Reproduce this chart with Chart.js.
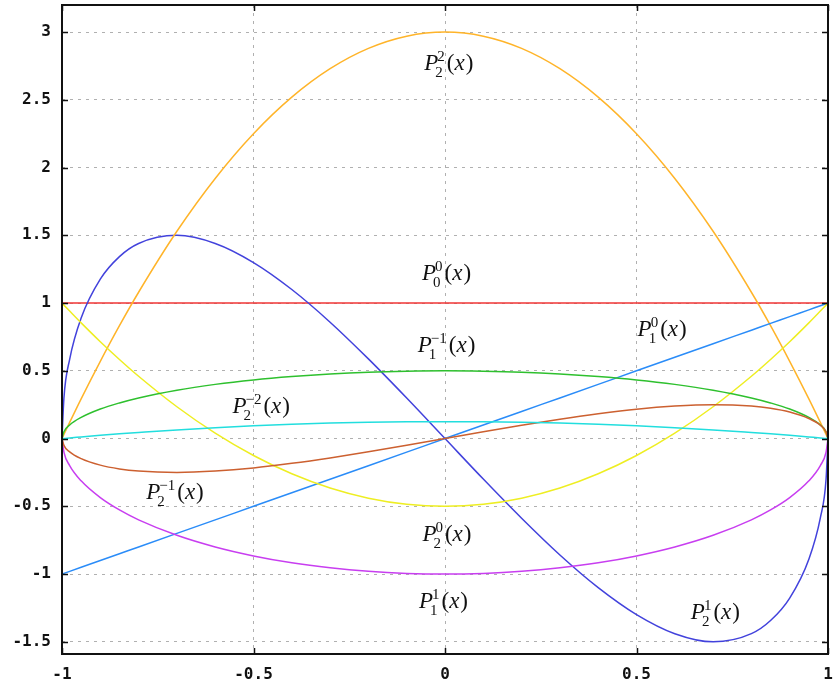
<!DOCTYPE html>
<html>
<head>
<meta charset="utf-8">
<script src="https://cdn.jsdelivr.net/npm/chart.js@4.4.1/dist/chart.umd.min.js"></script>
<style>
  html, body { margin: 0; padding: 0; background: #fff; }
</style>
</head>
<body>
<canvas id="myChart" width="833" height="689"></canvas>
<script>
let xs = [-1, -0.995, -0.98, -0.95, -0.9, -0.85, -0.8, -0.7, -0.6, -0.5, -0.4, -0.3, -0.2, -0.1, 0,
          0.1, 0.2, 0.3, 0.4, 0.5, 0.6, 0.7, 0.8, 0.85, 0.9, 0.95, 0.98, 0.995, 1]

let p00 = [1, 1, 1, 1, 1, 1, 1, 1, 1, 1, 1, 1, 1, 1, 1,
           1, 1, 1, 1, 1, 1, 1, 1, 1, 1, 1, 1, 1, 1]
let p10 = [-1, -0.995, -0.98, -0.95, -0.9, -0.85, -0.8, -0.7, -0.6, -0.5, -0.4, -0.3, -0.2, -0.1, 0,
           0.1, 0.2, 0.3, 0.4, 0.5, 0.6, 0.7, 0.8, 0.85, 0.9, 0.95, 0.98, 0.995, 1]
let p1m1 = [0, 0.05, 0.1, 0.156, 0.218, 0.263, 0.3, 0.357, 0.4, 0.433, 0.458, 0.477, 0.49, 0.497, 0.5,
            0.497, 0.49, 0.477, 0.458, 0.433, 0.4, 0.357, 0.3, 0.263, 0.218, 0.156, 0.1, 0.05, 0]
let p11 = [0, -0.1, -0.199, -0.312, -0.436, -0.527, -0.6, -0.714, -0.8, -0.866, -0.917, -0.954, -0.98, -0.995, -1,
           -0.995, -0.98, -0.954, -0.917, -0.866, -0.8, -0.714, -0.6, -0.527, -0.436, -0.312, -0.199, -0.1, 0]
let p20 = [1, 0.985, 0.941, 0.854, 0.715, 0.584, 0.46, 0.235, 0.04, -0.125, -0.26, -0.365, -0.44, -0.485, -0.5,
           -0.485, -0.44, -0.365, -0.26, -0.125, 0.04, 0.235, 0.46, 0.584, 0.715, 0.854, 0.941, 0.985, 1]
let p21 = [0, 0.298, 0.585, 0.89, 1.177, 1.343, 1.44, 1.5, 1.44, 1.299, 1.1, 0.859, 0.588, 0.299, 0,
           -0.299, -0.588, -0.859, -1.1, -1.299, -1.44, -1.5, -1.44, -1.343, -1.177, -0.89, -0.585, -0.298, 0]
let p22 = [0, 0.03, 0.119, 0.293, 0.57, 0.833, 1.08, 1.53, 1.92, 2.25, 2.52, 2.73, 2.88, 2.97, 3,
           2.97, 2.88, 2.73, 2.52, 2.25, 1.92, 1.53, 1.08, 0.833, 0.57, 0.293, 0.119, 0.03, 0]
let p2m1 = [0, -0.05, -0.098, -0.148, -0.196, -0.224, -0.24, -0.25, -0.24, -0.217, -0.183, -0.143, -0.098, -0.05, 0,
            0.05, 0.098, 0.143, 0.183, 0.217, 0.24, 0.25, 0.24, 0.224, 0.196, 0.148, 0.098, 0.05, 0]
let p2m2 = [0, 0.001, 0.005, 0.012, 0.024, 0.035, 0.045, 0.064, 0.08, 0.094, 0.105, 0.114, 0.12, 0.124, 0.125,
            0.124, 0.12, 0.114, 0.105, 0.094, 0.08, 0.064, 0.045, 0.035, 0.024, 0.012, 0.005, 0.001, 0]

let xTicks = [-1, -0.5, 0, 0.5, 1]
let yTicks = [-1.5, -1, -0.5, 0, 0.5, 1, 1.5, 2, 2.5, 3]

// curve labels: [sub, sup, x, baseline y]
let curveLabels = [
  ['2', '2', 0.01, 2.717],
  ['0', '0', 0.004, 1.174],
  ['1', '\u22121', 0.004, 0.642],
  ['1', '0', 0.567, 0.76],
  ['2', '\u22122', -0.48, 0.191],
  ['2', '\u22121', -0.705, -0.444],
  ['2', '0', 0.005, -0.754],
  ['1', '1', -0.004, -1.249],
  ['2', '1', 0.706, -1.33]
]

function pts(ys) {
  return xs.map((x, i) => ({ x: x, y: ys[i] }))
}

function line(data, color) {
  return {
    data: pts(data),
    borderColor: color,
    borderWidth: 1.5,
    pointRadius: 0,
    fill: false,
    cubicInterpolationMode: 'monotone'
  }
}

let frame = {
  id: 'frame',
  afterDatasetsDraw(chart) {
    const ctx = chart.ctx
    const a = chart.chartArea
    const xs_ = chart.scales.x, ys_ = chart.scales.y
    ctx.save()
    ctx.strokeStyle = '#111'
    ctx.lineWidth = 1.5
    ctx.beginPath()
    yTicks.forEach(v => {
      const py = Math.round(ys_.getPixelForValue(v)) + 0.5
      ctx.moveTo(a.left, py); ctx.lineTo(a.left + 6, py)
      ctx.moveTo(a.right, py); ctx.lineTo(a.right - 6, py)
    })
    xTicks.forEach(v => {
      const px = Math.round(xs_.getPixelForValue(v)) + 0.5
      ctx.moveTo(px, a.bottom); ctx.lineTo(px, a.bottom - 6)
      ctx.moveTo(px, a.top); ctx.lineTo(px, a.top + 6)
    })
    ctx.stroke()
    ctx.lineWidth = 2
    ctx.strokeRect(a.left, a.top, a.right - a.left, a.bottom - a.top)

    // curve names
    const big = "italic 23px 'Liberation Serif'"
    const up = "23px 'Liberation Serif'"
    const small = "15px 'Liberation Serif'"
    ctx.fillStyle = '#111'
    ctx.textBaseline = 'alphabetic'
    ctx.textAlign = 'left'
    curveLabels.forEach(l => {
      const cx = xs_.getPixelForValue(l[2])
      const by = ys_.getPixelForValue(l[3])
      ctx.font = big; const wP = ctx.measureText('P').width; const wx = ctx.measureText('x').width
      ctx.font = up; const wL = ctx.measureText('(').width; const wR = ctx.measureText(')').width
      ctx.font = small; const ws = Math.max(ctx.measureText(l[0]).width, ctx.measureText(l[1]).width)
      const total = wP + ws + 1 + wL + wx + 1 + wR
      let x = cx - total / 2
      ctx.font = big; ctx.fillText('P', x, by); x += wP
      ctx.font = small
      ctx.fillText(l[1], x - 1, by - 9)
      ctx.fillText(l[0], x - 3, by + 7)
      x += ws + 1
      ctx.font = up; ctx.fillText('(', x, by); x += wL
      ctx.font = big; ctx.fillText('x', x, by); x += wx + 1
      ctx.font = up; ctx.fillText(')', x, by)
    })
    ctx.restore()
  }
}

let tickFont = { family: "'DejaVu Sans Mono'", size: 16, weight: 'bold' }

let cht = document.getElementById('myChart')
let chart = new Chart(cht, {
  type: 'line',
  data: {
    datasets: [
      line(p2m2, '#22dede'),
      line(p2m1, '#cc6030'),
      line(p1m1, '#2ec02e'),
      line(p20, '#eeee22'),
      line(p11, '#c83ef0'),
      line(p10, '#2a8cf8'),
      line(p22, '#ffb429'),
      line(p21, '#4242dc'),
      line(p00, '#f03434')
    ]
  },
  options: {
    responsive: false,
    animation: false,
    layout: { padding: { top: 5, right: 5, left: 0, bottom: 0 } },
    plugins: { legend: { display: false }, tooltip: { enabled: false } },
    scales: {
      x: {
        type: 'linear',
        min: -1,
        max: 1,
        afterBuildTicks: s => { s.ticks = xTicks.map(v => ({ value: v })) },
        afterFit: s => { s.height = 35; s.paddingLeft = 0; s.paddingRight = 0 },
        grid: { color: '#b0b0b0', lineWidth: 1, drawTicks: false },
        border: { display: false, dash: [3, 5] },
        ticks: { color: '#111', font: tickFont, padding: 11, maxRotation: 0, autoSkip: false,
                 callback: v => String(v) }
      },
      y: {
        min: -1.59,
        max: 3.2,
        afterBuildTicks: s => { s.ticks = yTicks.map(v => ({ value: v })) },
        afterFit: s => { s.width = 62; s.paddingTop = 0; s.paddingBottom = 0 },
        grid: { color: '#b0b0b0', lineWidth: 1, drawTicks: false },
        border: { display: false, dash: [3, 5] },
        ticks: { color: '#111', font: tickFont, padding: 11, autoSkip: false,
                 callback: v => String(v) }
      }
    }
  },
  plugins: [frame]
})
</script>
</body>
</html>
